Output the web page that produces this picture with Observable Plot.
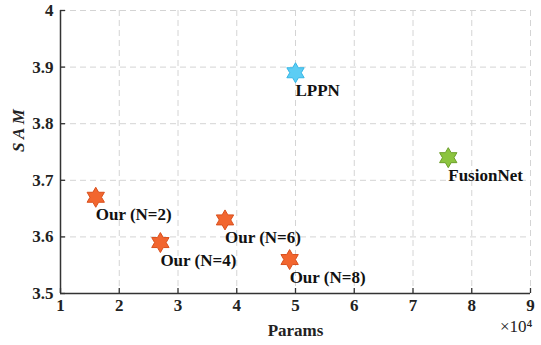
<!DOCTYPE html>
<html><head><meta charset="utf-8">
<script src="https://cdn.jsdelivr.net/npm/d3@7"></script>
<script src="https://cdn.jsdelivr.net/npm/@observablehq/plot@0.6"></script>
<style>body{margin:0;background:#fff} svg text{font-family:"Liberation Serif","Times New Roman",serif !important;}</style>
</head><body><div id="chart"></div>
<script>
const names = ["Our (N=2)", "Our (N=4)", "Our (N=6)", "Our (N=8)", "LPPN", "FusionNet"];
const groups = ["Our", "Our", "Our", "Our", "LPPN", "FusionNet"];
const params = [1.6, 2.7, 3.8, 4.9, 5.0, 7.6]; // ×10^4
const sam = [3.67, 3.59, 3.63, 3.56, 3.89, 3.74];
const xTicks = [1, 2, 3, 4, 5, 6, 7, 8, 9];
const yTicks = [3.5, 3.6, 3.7, 3.8, 3.9, 4];
const yTickLabels = ["3.5", "3.6", "3.7", "3.8", "3.9", "4"];

const palette = {
  Our: {fill: "#f2662f", stroke: "#d9501d"},
  LPPN: {fill: "#5ccdf4", stroke: "#36b6e6"},
  FusionNet: {fill: "#8cc43f", stroke: "#6c9f2a"}
};

const data = names.map((n, i) => ({name: n, group: groups[i], x: params[i], y: sam[i]}));

const hexagram = {
  draw(context, size) {
    const R = Math.sqrt(size / Math.PI);
    const r = R / Math.sqrt(3);
    for (let i = 0; i < 12; i++) {
      const a = -Math.PI / 2 + i * Math.PI / 6;
      const rr = i % 2 === 0 ? R : r;
      const px = rr * Math.cos(a), py = rr * Math.sin(a);
      if (i === 0) context.moveTo(px, py); else context.lineTo(px, py);
    }
    context.closePath();
  }
};

const font = '"Liberation Serif", "Times New Roman", serif';
const grid = {stroke: "#d4d4d4", strokeOpacity: 1, strokeDasharray: "6,4", strokeWidth: 1};

const chart = Plot.plot({
  width: 541, height: 345,
  marginTop: 10, marginRight: 11, marginBottom: 52, marginLeft: 60,
  style: {fontFamily: font, fontWeight: "bold", fontSize: "16px", color: "#222"},
  x: {domain: [1, 9]},
  y: {domain: [3.5, 4]},
  marks: [
    Plot.gridX(xTicks, grid),
    Plot.gridY(yTicks, grid),
    Plot.ruleY([3.5], {stroke: "#333", strokeWidth: 1.5}),
    Plot.ruleX([1], {stroke: "#333", strokeWidth: 1.5}),
    Plot.axisX(xTicks, {tickSize: 0, tickPadding: 5, label: "Params", labelAnchor: "center", labelArrow: "none", labelOffset: 42, fontSize: 17, fontFamily: font, fontWeight: "bold"}),
    Plot.axisX(xTicks, {tickSize: -5, text: null, label: null, stroke: "#333", strokeWidth: 1.3}),
    Plot.axisY(yTicks, {tickSize: 0, tickPadding: 7, label: null, tickFormat: (d) => yTickLabels[yTicks.indexOf(d)], fontSize: 17, fontFamily: font, fontWeight: "bold"}),
    Plot.axisY(yTicks, {tickSize: -5, text: null, label: null, stroke: "#333", strokeWidth: 1.3}),
    Plot.text(["S A M"], {frameAnchor: "left", rotate: -90, dx: -42, fontStyle: "italic", fontWeight: "bold", fontSize: 17, fontFamily: font, fill: "#222"}),
    Plot.text(["×10⁴"], {frameAnchor: "bottom-right", dy: 38, dx: 2, textAnchor: "end", fontSize: 17, fontWeight: "normal", fontFamily: font, fill: "#222"}),
    ...Object.keys(palette).map(g => Plot.dot(data, {
      filter: d => d.group === g, x: "x", y: "y", r: 10, symbol: hexagram,
      fill: palette[g].fill, stroke: palette[g].stroke, strokeWidth: 1
    })),
    Plot.text(data, {x: "x", y: "y", text: "name", textAnchor: "start", lineAnchor: "top", dy: 11, dx: 0, fontSize: 17, fontWeight: "bold", fontFamily: font, fill: "#111"})
  ]
});
document.getElementById("chart").appendChild(chart);
</script>
</body></html>
